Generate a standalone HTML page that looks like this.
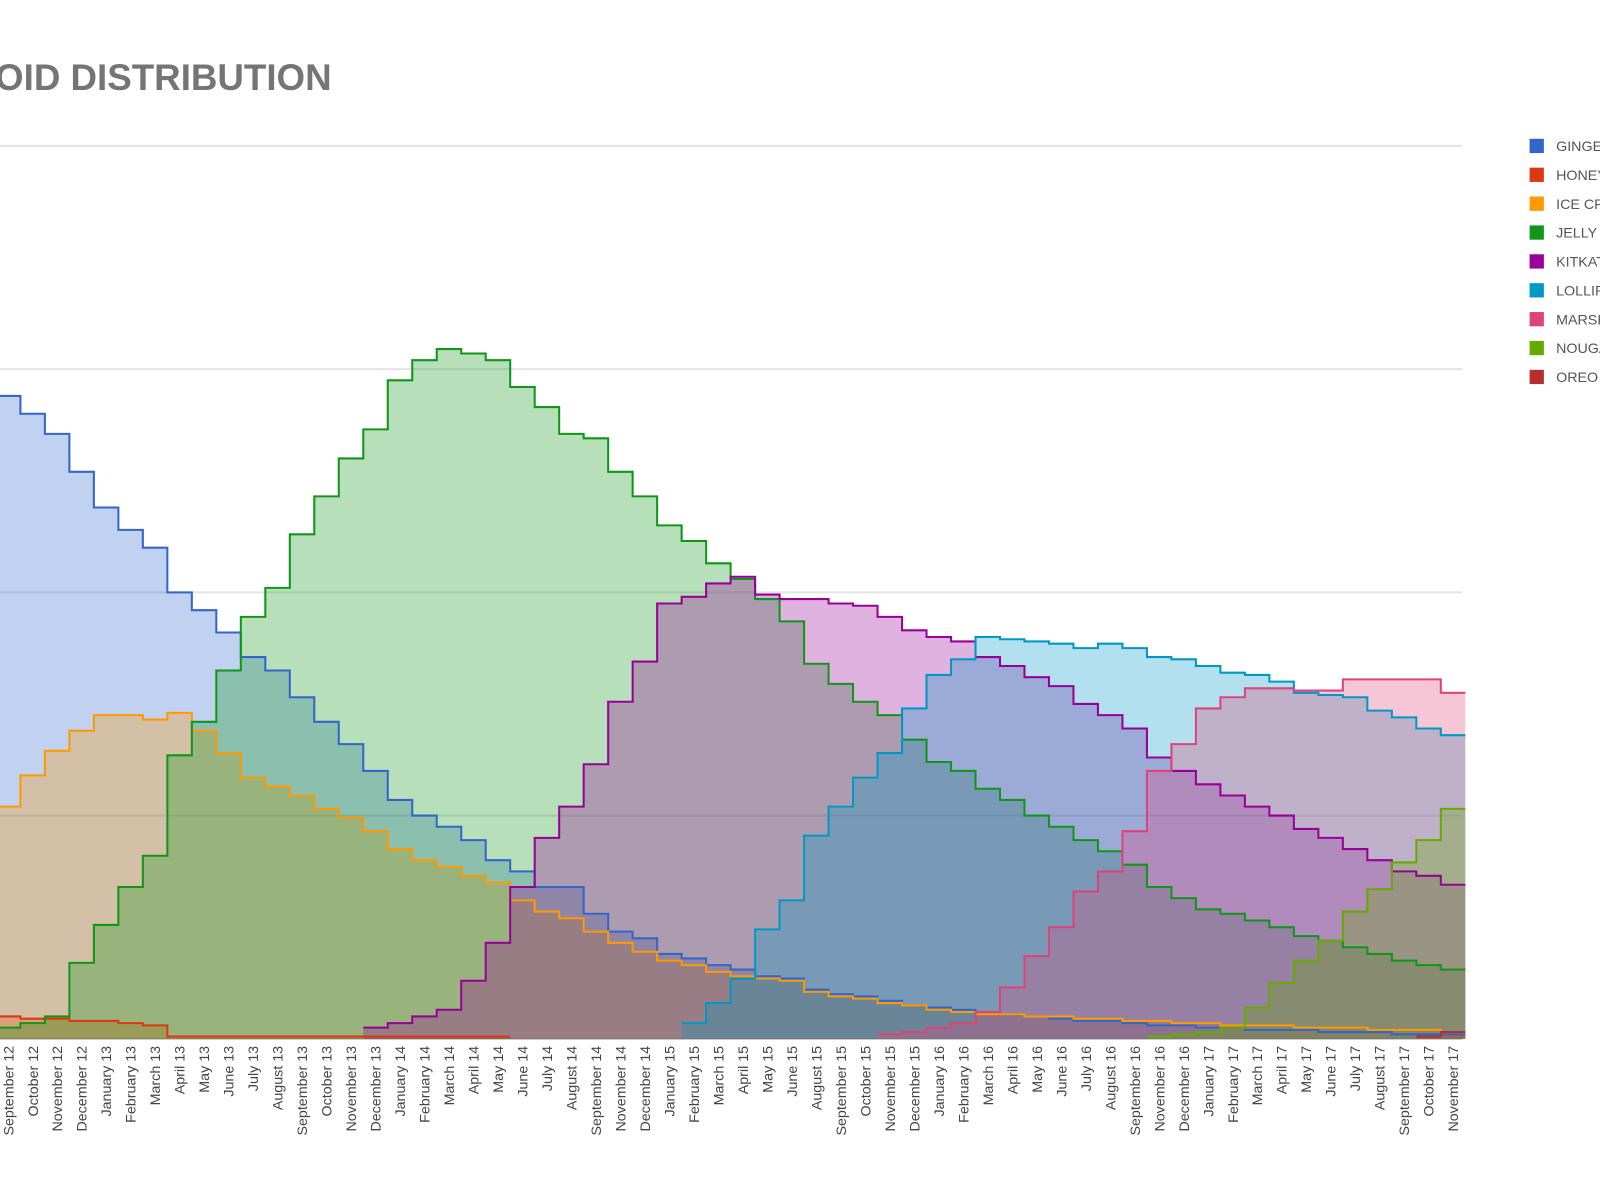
<!DOCTYPE html>
<html><head><meta charset="utf-8"><style>
html,body{margin:0;padding:0;background:#fff;}
svg{display:block;font-family:"Liberation Sans",Arial,sans-serif;}
</style></head><body>
<svg id="chart" width="1600" height="1200" viewBox="0 0 1568 1176" preserveAspectRatio="none" xmlns="http://www.w3.org/2000/svg">
<text x="325" y="88" text-anchor="end" font-size="36" font-weight="bold" fill="#757575">ANDROID DISTRIBUTION</text>
<g id="grid"></g>
<g id="areas"></g>
<g id="xlabels"></g>
<g id="legend"></g>
</svg>
<script>
const categories = ["September 12","October 12","November 12","December 12","January 13","February 13","March 13","April 13","May 13","June 13","July 13","August 13","September 13","October 13","November 13","December 13","January 14","February 14","March 14","April 14","May 14","June 14","July 14","August 14","September 14","November 14","December 14","January 15","February 15","March 15","April 15","May 15","June 15","August 15","September 15","October 15","November 15","December 15","January 16","February 16","March 16","April 16","May 16","June 16","July 16","August 16","September 16","November 16","December 16","January 17","February 17","March 17","April 17","May 17","June 17","July 17","August 17","September 17","October 17","November 17"];
const seriesNames = ["GINGERBREAD","HONEYCOMB","ICE CREAM SANDWICH","JELLY BEAN","KITKAT","LOLLIPOP","MARSHMALLOW","NOUGAT","OREO"];
const seriesColors = ["#3366cc","#dc3912","#ff9900","#109618","#990099","#0099c6","#dd4477","#66aa00","#b82e2e"];
const gridValues = [0,10,20,30,40];
const gingerbread = [28.8,28.0,27.1,25.4,23.8,22.8,22.0,20.0,19.2,18.2,17.1,16.5,15.3,14.2,13.2,12.0,10.7,10.0,9.5,8.9,8.0,7.5,6.8,6.8,5.6,4.8,4.5,3.8,3.6,3.3,3.1,2.8,2.7,2.2,2.0,1.9,1.7,1.5,1.4,1.3,1.2,1.1,1.0,0.9,0.8,0.8,0.7,0.6,0.6,0.5,0.5,0.4,0.4,0.4,0.3,0.3,0.3,0.2,0.2,0.2];
const honeycomb = [1.0,0.9,0.9,0.8,0.8,0.7,0.6,0.1,0.1,0.1,0.1,0.1,0.1,0.1,0.1,0.1,0.1,0.1,0.1,0.1,0.1,null,null,null,null,null,null,null,null,null,null,null,null,null,null,null,null,null,null,null,null,null,null,null,null,null,null,null,null,null,null,null,null,null,null,null,null,null,null,null];
const iceCream = [10.4,11.8,12.9,13.8,14.5,14.5,14.3,14.6,13.8,12.8,11.7,11.3,10.9,10.3,9.9,9.3,8.5,8.0,7.7,7.3,7.0,6.2,5.7,5.4,4.8,4.3,3.9,3.5,3.3,3.0,2.8,2.7,2.6,2.1,1.9,1.8,1.6,1.5,1.3,1.2,1.1,1.1,1.0,1.0,0.9,0.9,0.8,0.8,0.7,0.7,0.6,0.6,0.6,0.5,0.5,0.5,0.4,0.4,0.4,0.3];
const jellyBean = [0.5,0.7,1.0,3.4,5.1,6.8,8.2,12.7,14.2,16.5,18.9,20.2,22.6,24.3,26.0,27.3,29.5,30.4,30.9,30.7,30.4,29.2,28.3,27.1,26.9,25.4,24.3,23.0,22.3,21.3,20.6,19.7,18.7,16.8,15.9,15.1,14.5,13.4,12.4,12.0,11.2,10.7,10.0,9.5,8.9,8.4,7.8,6.8,6.3,5.8,5.6,5.3,5.0,4.6,4.4,4.1,3.8,3.5,3.3,3.1];
const kitkat = [null,null,null,null,null,null,null,null,null,null,null,null,null,null,null,0.5,0.7,1.0,1.3,2.6,4.3,6.8,9.0,10.4,12.3,15.1,16.9,19.5,19.8,20.4,20.7,19.9,19.7,19.7,19.5,19.4,18.9,18.3,18.0,17.8,17.1,16.7,16.2,15.8,15.0,14.5,13.9,12.6,12.0,11.4,10.9,10.4,10.0,9.4,9.0,8.5,8.0,7.5,7.3,6.9];
const lollipop = [null,null,null,null,null,null,null,null,null,null,null,null,null,null,null,null,null,null,null,null,null,null,null,null,null,null,null,null,0.7,1.6,2.7,4.9,6.2,9.1,10.4,11.7,12.8,14.8,16.3,17.0,18.0,17.9,17.8,17.7,17.5,17.7,17.5,17.1,17.0,16.7,16.4,16.3,16.0,15.5,15.4,15.3,14.7,14.4,13.9,13.6];
const marshmallow = [null,null,null,null,null,null,null,null,null,null,null,null,null,null,null,null,null,null,null,null,null,null,null,null,null,null,null,null,null,null,null,null,null,null,null,null,0.2,0.3,0.5,0.7,1.2,2.3,3.7,5.0,6.6,7.5,9.3,12.0,13.2,14.8,15.3,15.7,15.7,15.6,15.6,16.1,16.1,16.1,16.1,15.5];
const nougat = [null,null,null,null,null,null,null,null,null,null,null,null,null,null,null,null,null,null,null,null,null,null,null,null,null,null,null,null,null,null,null,null,null,null,null,null,null,null,null,null,null,null,null,null,null,null,null,0.1,0.2,0.3,0.5,1.4,2.5,3.5,4.4,5.7,6.7,7.9,8.9,10.3];
const oreo = [null,null,null,null,null,null,null,null,null,null,null,null,null,null,null,null,null,null,null,null,null,null,null,null,null,null,null,null,null,null,null,null,null,null,null,null,null,null,null,null,null,null,null,null,null,null,null,null,null,null,null,null,null,null,null,null,null,null,0.1,0.3];
const seriesData = [gingerbread,honeycomb,iceCream,jellyBean,kitkat,lollipop,marshmallow,nougat,oreo];
const seriesKeys = ["gingerbread","honeycomb","ice-cream-sandwich","jelly-bean","kitkat","lollipop","marshmallow","nougat","oreo"];

const NS="http://www.w3.org/2000/svg";
const X0=8, STEP=24, BASE=1018, PERUNIT=21.875, PLOT_L=0, PLOT_R=1433;
function xScale(i){return X0+STEP*i;}
function yScale(v){return BASE-v*PERUNIT;}

const grid=document.getElementById('grid');
gridValues.forEach(function(v){
  const l=document.createElementNS(NS,'line');
  
  
  l.setAttribute('x1',PLOT_L);l.setAttribute('x2',PLOT_R);
  l.setAttribute('y1',yScale(v));l.setAttribute('y2',yScale(v));
  l.setAttribute('stroke',v===0?'#999':'#e4e4e4');l.setAttribute('stroke-width',v===0?1.5:2);
  grid.appendChild(l);
});

function stepLine(data,first,last){
  let line='';
  for(let i=first;i<=last;i++){
    const y=yScale(data[i]);
    line+=(i===first?'M':'L')+(xScale(i-0.5))+' '+y+' L'+(xScale(i+0.5))+' '+y+' ';
  }
  return line;
}
function range(data){
  let first=-1,last=-1;
  data.forEach(function(v,i){if(v!==null){if(first<0)first=i;last=i;}});
  return [first,last];
}

const areas=document.getElementById('areas');
seriesData.forEach(function(data,s){
  const r=range(data); if(r[0]<0)return;
  const line=stepLine(data,r[0],r[1]);
  const fill=document.createElementNS(NS,'path');
  
  
  fill.setAttribute('d','M'+xScale(r[0]-0.5)+' '+BASE+' '+line.replace(/^M/,'L')+'L'+xScale(r[1]+0.5)+' '+BASE+' Z');
  fill.setAttribute('fill',seriesColors[s]);fill.setAttribute('fill-opacity','0.3');
  areas.appendChild(fill);
});
seriesData.forEach(function(data,s){
  const r=range(data); if(r[0]<0)return;
  const p=document.createElementNS(NS,'path');
  
  
  p.setAttribute('d',stepLine(data,r[0],r[1]));p.setAttribute('fill','none');
  p.setAttribute('stroke',seriesColors[s]);p.setAttribute('stroke-width','2');
  areas.appendChild(p);
});

const xl=document.getElementById('xlabels');
categories.forEach(function(c,i){
  const t=document.createElementNS(NS,'text');
  
  
  const x=xScale(i)+5, y=1025;
  t.setAttribute('transform','translate('+x+','+y+') rotate(-90)');
  t.setAttribute('text-anchor','end');t.setAttribute('font-size','14');t.setAttribute('fill','#444');
  t.textContent=c;xl.appendChild(t);
});

const lg=document.getElementById('legend');
seriesNames.forEach(function(n,s){
  const y=136+28.3*s;
  const g=document.createElementNS(NS,'g');
  
  
  const r=document.createElementNS(NS,'rect');
  
  
  r.setAttribute('x',1499);r.setAttribute('y',y);r.setAttribute('width',14);r.setAttribute('height',14);
  r.setAttribute('fill',seriesColors[s]);g.appendChild(r);
  const t=document.createElementNS(NS,'text');
  
  
  t.setAttribute('x',1525);t.setAttribute('y',y+12);t.setAttribute('font-size','14');t.setAttribute('fill','#555');
  t.textContent=n;g.appendChild(t);
  lg.appendChild(g);
});
</script>
</body></html>
